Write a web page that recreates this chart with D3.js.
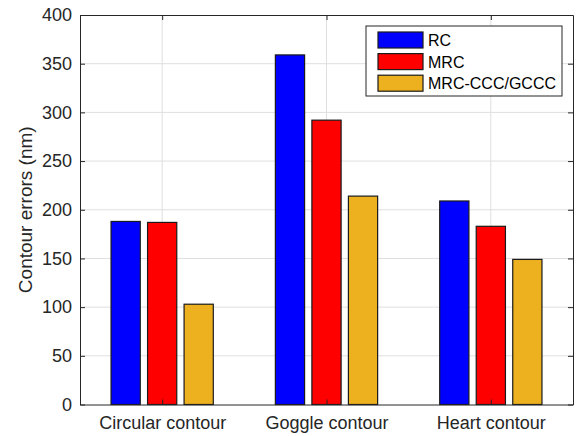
<!DOCTYPE html>
<html>
<head>
<meta charset="utf-8">
<script src="https://cdn.jsdelivr.net/npm/d3@7/dist/d3.min.js"></script>
<style>
  html, body { margin: 0; padding: 0; background: #fff; }
  svg { display: block; font-family: "Liberation Sans", Arial, Helvetica, sans-serif; }
</style>
</head>
<body>
<svg id="chart" width="581" height="436"></svg>
<script>
// Contour error per method and test contour
const categories = ["Circular contour", "Goggle contour", "Heart contour"];
const seriesNames = ["RC", "MRC", "MRC-CCC/GCCC"];
const seriesColors = ["#0000ff", "#ff0000", "#edb120"];
const rcValues = [188, 359, 209];
const mrcValues = [187, 292, 183];
const cccValues = [103, 214, 149];
const yTicks = [0, 50, 100, 150, 200, 250, 300, 350, 400];
const yLabel = "Contour errors (nm)";

const series = [rcValues, mrcValues, cccValues];

const svg = d3.select("#chart");
const margin = { left: 80, right: 8, top: 15, bottom: 31.5 };
const W = 581, H = 436;
const x0 = margin.left, x1 = W - margin.right;
const yTop = margin.top, yBot = H - margin.bottom;

// Categories sit at 1..3 on a [0.5, 3.5] axis
const x = d3.scaleLinear().domain([0.5, 3.5]).range([x0, x1]);
const y = d3.scaleLinear().domain([0, 400]).range([yBot, yTop]);

const groupWidth = 2 / 3;
const slot = groupWidth / series.length;
const barW = slot * 0.8;

// grid
const grid = svg.append("g");
grid.selectAll("line.h").data(yTicks.slice(1, -1)).join("line")
  .attr("x1", x0).attr("x2", x1)
  .attr("y1", d => y(d)).attr("y2", d => y(d))
  .attr("stroke", "#dfdfdf").attr("stroke-width", 1);
grid.selectAll("line.v").data(categories).join("line")
  .attr("x1", (d, i) => x(i + 1)).attr("x2", (d, i) => x(i + 1))
  .attr("y1", yTop).attr("y2", yBot)
  .attr("stroke", "#dfdfdf").attr("stroke-width", 1);

// bars
series.forEach((vals, s) => {
  svg.append("g").selectAll("rect").data(vals).join("rect")
    .attr("x", (d, i) => x(i + 1 - groupWidth / 2 + slot * s + (slot - barW) / 2))
    .attr("width", x(barW) - x(0))
    .attr("y", d => y(d))
    .attr("height", d => y(0) - y(d))
    .attr("fill", seriesColors[s])
    .attr("stroke", "#1a1a1a")
    .attr("stroke-width", 1.2);
});

// axes (inward ticks, mirrored on the box)
const axisColor = "#262626";
const yAxis = d3.axisLeft(y).tickValues(yTicks).tickSizeInner(-5).tickSizeOuter(0).tickPadding(8);
const gy = svg.append("g").attr("transform", `translate(${x0},0)`).call(yAxis);
const yAxisR = d3.axisRight(y).tickValues(yTicks).tickSizeInner(-5).tickSizeOuter(0).tickFormat("");
const gyr = svg.append("g").attr("transform", `translate(${x1},0)`).call(yAxisR);

const xAxis = d3.axisBottom(x).tickValues([1, 2, 3]).tickFormat((d) => categories[d - 1])
  .tickSizeInner(-5).tickSizeOuter(0).tickPadding(12);
const gx = svg.append("g").attr("transform", `translate(0,${yBot})`).call(xAxis);
const xAxisT = d3.axisTop(x).tickValues([1, 2, 3]).tickFormat("").tickSizeInner(-5).tickSizeOuter(0);
const gxt = svg.append("g").attr("transform", `translate(0,${yTop})`).call(xAxisT);

[gy, gyr, gx, gxt].forEach(g => {
  g.select(".domain").attr("stroke", axisColor).attr("stroke-width", 1);
  g.selectAll(".tick line").attr("stroke", axisColor).attr("stroke-width", 1);
  g.selectAll(".tick text").attr("fill", "#262626").attr("font-size", 18)
    .attr("font-family", "'Liberation Sans', Arial, sans-serif");
});

// y label
svg.append("text")
  .attr("transform", `translate(32,${(yTop + yBot) / 2}) rotate(-90)`)
  .attr("text-anchor", "middle")
  .attr("fill", "#262626")
  .attr("font-size", 19)
  .text(yLabel);

// legend
const lg = svg.append("g").attr("transform", "translate(366,26)");
lg.append("rect").attr("x", 0).attr("y", 0).attr("width", 196).attr("height", 70)
  .attr("fill", "#fff").attr("stroke", "#262626").attr("stroke-width", 1);
seriesNames.forEach((name, i) => {
  const ry = 6 + i * 21.6;
  lg.append("rect").attr("x", 12).attr("y", ry).attr("width", 45).attr("height", 16)
    .attr("fill", seriesColors[i]).attr("stroke", "#1a1a1a").attr("stroke-width", 1.2);
  lg.append("text").attr("x", 62).attr("y", ry + 14)
    .attr("font-size", 16).attr("fill", "#000").text(name);
});
</script>
</body>
</html>
